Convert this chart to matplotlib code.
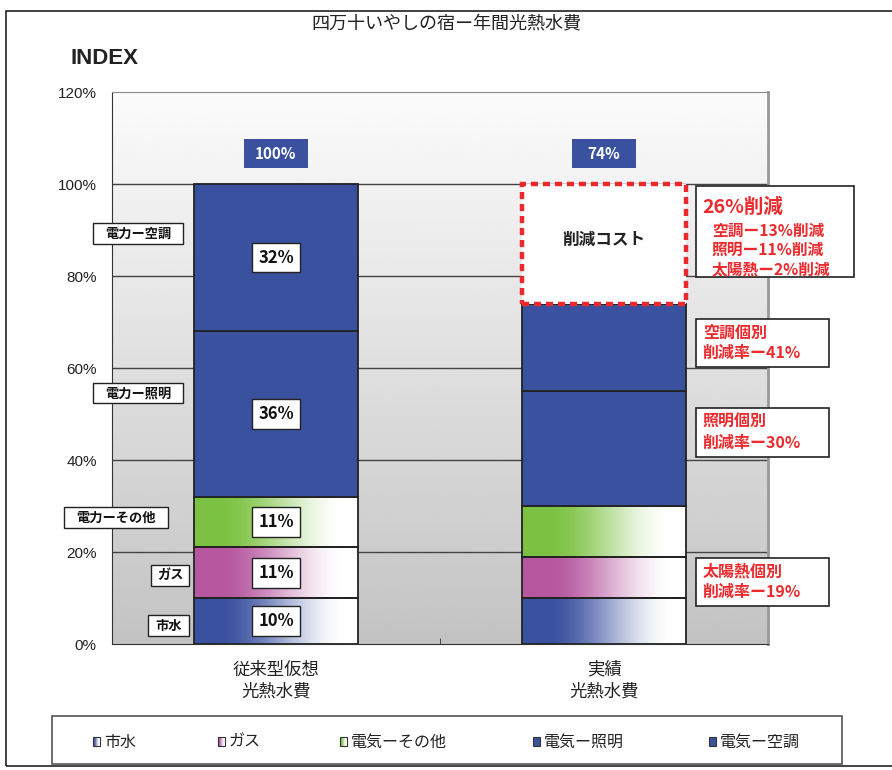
import numpy as np
import matplotlib.pyplot as plt
from matplotlib.patches import Rectangle

plt.rcParams['font.family'] = ['Noto Sans CJK JP', 'DejaVu Sans']

# data
categories = ['従来型仮想\n光熱水費', '実績\n光熱水費']
series_names = ['市水', 'ガス', '電気ーその他', '電気ー照明', '電気ー空調']
shisui = [10, 10]
gas = [11, 9]
denki_sonota = [11, 11]
denki_shomei = [36, 25]
denki_kucho = [32, 19]
y_ticks = [0, 20, 40, 60, 80, 100, 120]

side_labels = ['電力ー空調', '電力ー照明', '電力ーその他', 'ガス', '市水']
cut_title = '26%削減'
cut_lines = ['空調ー13%削減', '照明ー11%削減', '太陽熱ー2%削減']
notes = ['空調個別\n削減率ー41%', '照明個別\n削減率ー30%', '太陽熱個別\n削減率ー19%']

BLUE = '#3A51A0'
RED = '#EC2A2D'
colors = ['#3A51A0', '#B6579F', '#7CC242', BLUE, BLUE]
faded = [True, True, True, False, False]


def make_grad(color, a=0.15, b=0.92):
    # horizontal fade from the colour to white
    c = np.array(plt.matplotlib.colors.to_rgb(color))
    t = np.linspace(0, 1, 256)
    r = np.clip((t - a) / (b - a), 0, 1)
    r = r * r * (3 - 2 * r)
    img = c[None, :] * (1 - r[:, None]) + r[:, None]
    return img[None, :, :]


fig = plt.figure(figsize=(8.92, 7.70), dpi=100)
ax = fig.add_axes([112 / 892, 126 / 770, 656 / 892, 552 / 770])

# plot area background
bg = np.linspace(0.985, 0.765, 200)
ax.imshow(np.repeat(bg[:, None], 2, axis=1), cmap='gray', vmin=0, vmax=1,
          extent=(-0.5, 1.5, 0, 120), aspect='auto', zorder=0)
for yv in y_ticks[1:-1]:
    ax.axhline(yv, color='#444444', lw=1, zorder=1)

x = np.arange(len(categories))
width = 0.5
stack = [shisui, gas, denki_sonota, denki_shomei, denki_kucho]
bottoms = np.zeros(len(categories))
for vals, col, fd in zip(stack, colors, faded):
    for i in range(len(categories)):
        x0 = x[i] - width / 2
        if fd:
            ax.imshow(make_grad(col), extent=(x0, x0 + width, bottoms[i], bottoms[i] + vals[i]),
                      aspect='auto', zorder=3, interpolation='bilinear')
        ax.add_patch(Rectangle((x0, bottoms[i]), width, vals[i],
                               facecolor='none' if fd else col,
                               edgecolor='#222222', lw=1.3, zorder=4))
    # value boxes only on the first bar
    ax.text(x[0], bottoms[0] + vals[0] / 2, f'{vals[0]}%', ha='center', va='center',
            fontsize=12, fontweight='bold', color='#111111', zorder=6,
            bbox=dict(boxstyle='square,pad=0.35', fc='white', ec='#222222', lw=1))
    bottoms += np.array(vals)

totals = bottoms
for i in range(len(categories)):
    ax.add_patch(Rectangle((x[i] - 0.099, 103.5), 0.198, 6.3, facecolor=BLUE,
                           edgecolor='none', zorder=4))
    ax.text(x[i], 106.6, f'{totals[i]:.0f}%', ha='center', va='center', color='white',
            fontsize=11, fontweight='bold', zorder=5)

# reduced cost box
ax.add_patch(Rectangle((x[1] - width / 2, totals[1]), width, totals[0] - totals[1],
                       facecolor='white', edgecolor=RED, lw=3.2,
                       linestyle=(0, (1.6, 1.1)), zorder=4))
ax.text(x[1], (totals[0] + totals[1]) / 2 + 0.8, '削減コスト', ha='center', va='center',
        fontsize=12, fontweight='bold', color='#222222', zorder=5)

# labels left of the axis
side_pos = [(-0.558, -0.284, 87.0, 91.5), (-0.558, -0.284, 52.4, 56.7),
            (-0.646, -0.329, 25.2, 29.8), (-0.381, -0.265, 12.6, 17.2),
            (-0.390, -0.265, 1.7, 6.3)]
for lab, (xa, xb, ya, yb) in zip(side_labels, side_pos):
    ax.add_patch(Rectangle((xa, ya), xb - xa, yb - ya, facecolor='white',
                           edgecolor='#222222', lw=1, zorder=6, clip_on=False))
    ax.text((xa + xb) / 2, (ya + yb) / 2, lab, ha='center', va='center', fontsize=9.5,
            fontweight='bold', color='#111111', zorder=7, clip_on=False)

# notes on the right
ax.add_patch(Rectangle((1.280, 79.8), 0.482, 19.8, facecolor='white',
                       edgecolor='#222222', lw=1.2, zorder=6, clip_on=False))
ax.text(1.300, 94.9, cut_title, ha='left', va='center', fontsize=14,
        fontweight='bold', color=RED, zorder=7, clip_on=False)
for k, line in enumerate(cut_lines):
    ax.text(1.329, 89.8 - k * 4.2, line, ha='left', va='center', fontsize=11.3,
            fontweight='bold', color=RED, zorder=7, clip_on=False)

note_pos = [(60.2, 70.7), (40.7, 51.3), (8.3, 18.7)]
for txt, (ya, yb) in zip(notes, note_pos):
    ax.add_patch(Rectangle((1.280, ya), 0.406, yb - ya, facecolor='white',
                           edgecolor='#222222', lw=1.2, zorder=6, clip_on=False))
    ax.text(1.301, (ya + yb) / 2, txt, ha='left', va='center', fontsize=11.5,
            fontweight='bold', color=RED, linespacing=1.35, zorder=7, clip_on=False)

ax.set_xlim(-0.5, 1.5)
ax.set_ylim(0, 120)
ax.set_xticks(x, categories)
ax.set_xticks([0.5], minor=True)
ax.tick_params(axis='x', which='major', length=0, pad=12, labelsize=12.5, colors='#222222')
ax.tick_params(axis='x', which='minor', length=4, direction='in', color='#333333')
for t in ax.get_xticklabels():
    t.set_linespacing(1.25)
ax.set_yticks(y_ticks, [f'{v}%' for v in y_ticks])
ax.tick_params(axis='y', length=0, pad=11, labelsize=11, colors='#222222')
for t in ax.get_yticklabels():
    t.set_fontfamily('Liberation Sans')
ax.spines['left'].set_color('#333333')
ax.spines['bottom'].set_color('#333333')
ax.spines['top'].set_color('#888888')
ax.spines['right'].set_color('#999999')
ax.spines['right'].set_linewidth(2)
for s in ax.spines.values():
    s.set_zorder(5)

fig.text(0.5, 1 - 23 / 770, '四万十いやしの宿ー年間光熱水費', ha='center', va='center',
         fontsize=13, color='#222222')
fig.text(70 / 892, 1 - 58 / 770, 'INDEX', ha='left', va='center', fontsize=16,
         fontweight='bold', family='Liberation Sans', color='#222222')

# legend
lax = fig.add_axes([52 / 892, 6 / 770, 790 / 892, 48 / 770])
lax.add_patch(Rectangle((0, 0), 790, 48, facecolor='white', edgecolor='#555555',
                        lw=1.2, clip_on=False))
item_x = [41, 166, 288, 481, 657]
for name, col, fd, lx in zip(series_names, colors, faded, item_x):
    if fd:
        lax.imshow(make_grad(col, 0.1, 0.9), extent=(lx, lx + 7, 18, 27),
                   aspect='auto', zorder=2)
    lax.add_patch(Rectangle((lx, 18), 7, 9, facecolor='none' if fd else col,
                            edgecolor='#333333', lw=0.8, zorder=3))
    lax.text(lx + 11, 22, name, ha='left', va='center', fontsize=11.5, color='#222222')
lax.set_xlim(0, 790)
lax.set_ylim(0, 48)
lax.axis('off')

# outer frame
fig.add_artist(Rectangle((6 / 892, 4 / 770), 1.0, 755 / 770, transform=fig.transFigure,
                         fill=False, edgecolor='#222222', lw=1.2, clip_on=False))

fig.savefig('out.png', dpi=100)
